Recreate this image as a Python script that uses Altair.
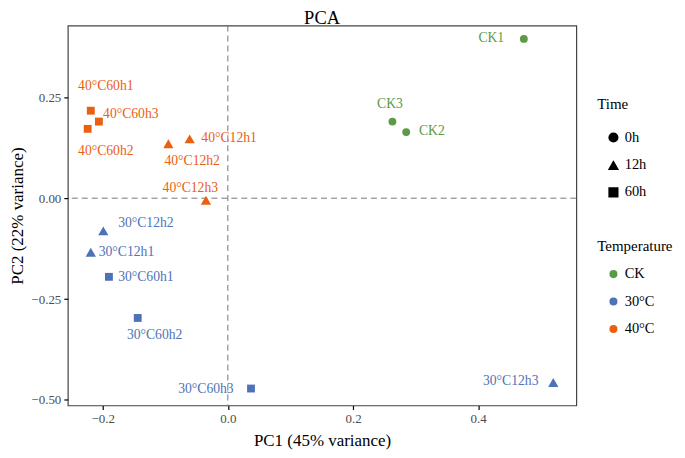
import altair as alt
import pandas as pd

names = ["CK1", "CK2", "CK3",
         "30°C12h1", "30°C12h2", "30°C12h3",
         "30°C60h1", "30°C60h2", "30°C60h3",
         "40°C12h1", "40°C12h2", "40°C12h3",
         "40°C60h1", "40°C60h2", "40°C60h3"]
temperature = ["CK", "CK", "CK",
               "30°C", "30°C", "30°C", "30°C", "30°C", "30°C",
               "40°C", "40°C", "40°C", "40°C", "40°C", "40°C"]
time = ["0h", "0h", "0h",
        "12h", "12h", "12h", "60h", "60h", "60h",
        "12h", "12h", "12h", "60h", "60h", "60h"]
pc1 = [0.473, 0.285, 0.263,
       -0.219, -0.199, 0.520,
       -0.190, -0.144, 0.037,
       -0.061, -0.095, -0.035,
       -0.219, -0.224, -0.206]
pc2 = [0.395, 0.164, 0.190,
       -0.134, -0.081, -0.457,
       -0.195, -0.297, -0.472,
       0.147, 0.135, -0.005,
       0.217, 0.172, 0.190]
# repelled label anchors (data units)
label_x = [0.421, 0.326, 0.259,
           -0.162, -0.131, 0.452,
           -0.131, -0.117, -0.035,
           0.002, -0.057, -0.060,
           -0.195, -0.195, -0.155]
label_y = [0.397, 0.166, 0.233,
           -0.133, -0.061, -0.454,
           -0.195, -0.339, -0.472,
           0.150, 0.092, 0.025,
           0.277, 0.116, 0.208]

df = pd.DataFrame({"name": names, "Temperature": temperature, "Time": time,
                   "PC1": pc1, "PC2": pc2, "lx": label_x, "ly": label_y})

temp_dom = ["CK", "30°C", "40°C"]
temp_col = ["#5b9a47", "#4e72b8", "#ea6010"]
time_dom = ["0h", "12h", "60h"]
time_shape = ["circle", "triangle-up", "square"]

FONT = "Liberation Serif"
xs = alt.Scale(domain=[-0.2557, 0.5568], nice=False, zero=False)
ys = alt.Scale(domain=[-0.514, 0.428], nice=False, zero=False)

vline = alt.Chart(pd.DataFrame({"v": [0]})).mark_rule(
    color="#777777", strokeDash=[6, 4], strokeWidth=1
).encode(x=alt.X("v:Q", scale=xs))
hline = alt.Chart(pd.DataFrame({"v": [0]})).mark_rule(
    color="#777777", strokeDash=[6, 4], strokeWidth=1
).encode(y=alt.Y("v:Q", scale=ys))

base = alt.Chart(df)

enc = dict(
    x=alt.X("PC1:Q", scale=xs, title="PC1 (45% variance)",
            axis=alt.Axis(values=[-0.2, 0.0, 0.2, 0.4], format=".1f")),
    y=alt.Y("PC2:Q", scale=ys, title="PC2 (22% variance)",
            axis=alt.Axis(values=[-0.5, -0.25, 0.0, 0.25], format=".2f")),
    color=alt.Color("Temperature:N", scale=alt.Scale(domain=temp_dom, range=temp_col),
                    legend=alt.Legend(orient="none", legendX=531, legendY=214,
                                      symbolType="circle", symbolSize=65,
                                      titleFontSize=15, labelFontSize=14.5,
                                      rowPadding=12.5, titlePadding=13,
                                      symbolOffset=9, labelOffset=4,
                                      symbolOpacity=1)),
    shape=alt.Shape("Time:N", scale=alt.Scale(domain=time_dom, range=time_shape),
                    legend=alt.Legend(orient="none", legendX=531, legendY=72,
                                      symbolSize=75, symbolFillColor="black",
                                      symbolStrokeColor="black",
                                      titleFontSize=15, labelFontSize=14.5,
                                      rowPadding=12, titlePadding=18,
                                      symbolOffset=9, labelOffset=4)),
)

pts_round = base.transform_filter(alt.datum.Time != "12h").mark_point(
    filled=True, opacity=1, size=62).encode(**enc)
pts_tri = base.transform_filter(alt.datum.Time == "12h").mark_point(
    filled=True, opacity=1, size=105).encode(**enc)

labels = base.mark_text(font=FONT, fontSize=13.7).encode(
    x=alt.X("lx:Q", scale=xs),
    y=alt.Y("ly:Q", scale=ys),
    text="name:N",
    color=alt.Color("Temperature:N", scale=alt.Scale(domain=temp_dom, range=temp_col)),
)

chart = alt.layer(vline, hline, pts_round, pts_tri, labels).properties(
    width=510, height=381,
    title=alt.Title("PCA", font=FONT, fontSize=18.5, fontWeight="normal",
                    anchor="middle", offset=-2, color="black"),
    autosize=alt.AutoSizeParams(type="none"),
    padding={"left": 60, "top": 17, "right": 101, "bottom": 44},
).configure_view(
    stroke="#444444", strokeWidth=1.2
).configure_axis(
    grid=False, domain=False, ticks=True, tickColor="black", tickSize=4,
    tickWidth=1.2, labelFont=FONT, labelFontSize=13, labelColor="#4d4d4d",
    titleFont=FONT, titleFontSize=17, titleFontWeight="normal", titleColor="black",
    labelPadding=3
).configure_axisX(titlePadding=7).configure_axisY(titlePadding=4).configure_legend(
    labelFont=FONT, titleFont=FONT, titleFontWeight="normal", titleColor="black",
    labelColor="black"
)

chart.save("out.html", embed_options={"renderer": "svg", "actions": False})
